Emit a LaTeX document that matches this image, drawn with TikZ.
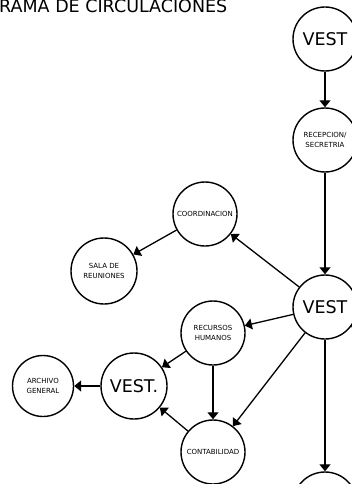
\documentclass[tikz,border=0pt]{standalone}
\usepackage{fontspec}
\setmainfont{DejaVu Sans}
\usetikzlibrary{arrows.meta}

\begin{document}
\begin{tikzpicture}[x=1pt, y=-1pt,
      esp/.style={draw, circle, line width=1.4pt, minimum size=64pt, inner sep=0pt, align=center,
        font=\fontsize{7}{10.5}\selectfont},
      vest/.style={esp, font=\fontsize{17.5}{18}\selectfont},
      ar/.style={-{Triangle[length=7pt, width=11pt]}, line width=1.3pt}]
    \useasboundingbox (0,0) rectangle (352,484);
    \clip (0,0) rectangle (352,484);
    \node[anchor=base west, inner sep=0pt, font=\fontsize{17.5}{18}\selectfont] (titulo) at (-1,13) {RAMA DE CIRCULACIONES};
    \node[vest] (vtop) at (325,39) {VEST};
    \node[esp] (recep) at (325,140) {RECEPCION/\\SECRETRIA};
    \node[vest] (vcen) at (325,307) {VEST};
    \node[esp] (coord) at (205,214) {COORDINACION};
    \node[esp, minimum size=66pt] (reun) at (104,271) {SALA DE\\REUNIONES};
    \node[esp] (rrhh) at (213,333) {RECURSOS\\HUMANOS};
    \node[vest, minimum size=66pt] (vizq) at (134,386) {VEST.};
    \node[esp, minimum size=61pt] (arch) at (43,386) {ARCHIVO\\GENERAL};
    \node[esp] (conta) at (213,452) {CONTABILIDAD};
    \node[esp] (vbot) at (325,504) {};
    \coordinate (fuera) at (425,380);
    \draw[ar] (vtop) -- (recep);
    \draw[ar] (recep) -- (vcen);
    \draw[ar] (vcen) -- (coord);
    \draw[ar] (coord) -- (reun);
    \draw[ar] (vcen) -- (rrhh);
    \draw[ar] (vcen) -- (conta);
    \draw[ar] (rrhh) -- (conta);
    \draw[ar] (rrhh) -- (vizq);
    \draw[ar] (conta) -- (vizq);
    \draw[ar] (vizq) -- (arch);
    \draw[ar] (vcen) -- (vbot);
    \draw[line width=1.3pt] (vcen) -- (fuera);
  \end{tikzpicture}
\end{document}
